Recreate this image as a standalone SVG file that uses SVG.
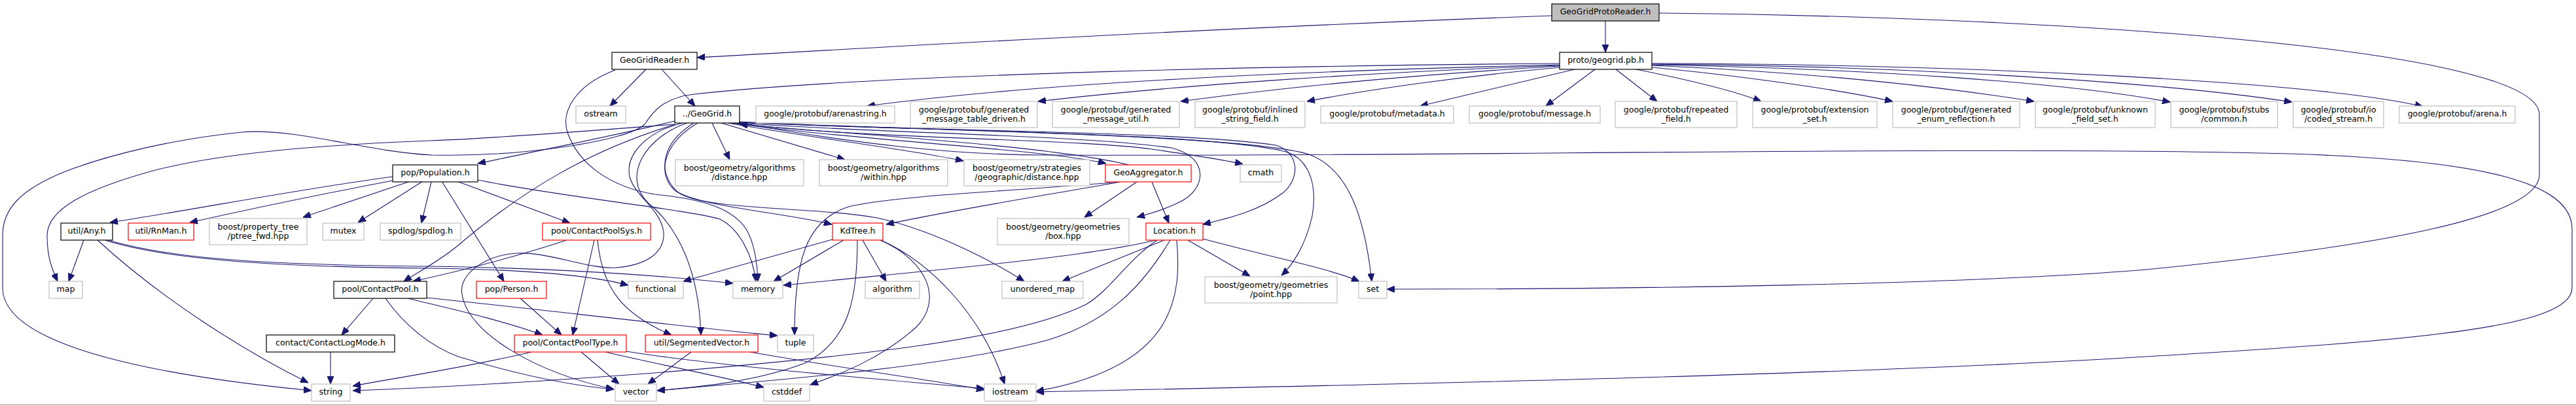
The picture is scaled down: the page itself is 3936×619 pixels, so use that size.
<svg xmlns="http://www.w3.org/2000/svg" width="3936" height="619" viewBox="0 0 3936 619">
<style>
.n rect{fill:#fff;stroke-width:1.2}
.b rect{stroke:#000}
.r rect{stroke:#f00}
.g rect{stroke:#bfbfbf}
.p rect{fill:#bfbfbf;stroke:#000}
text{font-family:"DejaVu Sans","Liberation Sans",sans-serif;font-size:12.5px;text-anchor:middle;fill:#000}
.e path{fill:none;stroke:#191970;stroke-width:1.1;marker-end:url(#ah)}
</style>
<defs>
<marker id="ah" markerUnits="userSpaceOnUse" viewBox="0 0 12 10" markerWidth="12" markerHeight="10" refX="12" refY="5" orient="auto">
<path d="M0,0 L12,5 L0,10 z" fill="#191970" stroke="#191970"/>
</marker>
</defs>
<rect x="0" y="0" width="3936" height="619" fill="#fff"/>
<line x1="0" y1="618.5" x2="3936" y2="618.5" stroke="#a8a8a8" stroke-width="1"/>
<g class="e" id="edges">
<path d="M2371,24 C1800,45 1300,75 1065,88"/>
<path d="M2453,32 L2453,80"/>
<path d="M2535,20 C3100,25 3880,70 3880,175 L3880,267 C3880,330 3650,375 3280,412 C3000,435 2500,442 2119,442"/>
<path d="M987,106 L932,162"/>
<path d="M1011,106 L1062,162"/>
<path d="M940,107 C880,130 855,170 868,205 C885,250 930,285 1000,297 C1080,305 1120,320 1140,350 C1152,370 1157,400 1158,430"/>
<path d="M2383,97 C2000,100 1350,112 1060,144 C1010,150 995,175 985,190 C960,215 800,240 660,237 C560,232 450,195 370,202 C270,212 170,235 100,262 C30,290 4,320 4,360 L4,440 C4,510 150,565 476,597"/>
<path d="M2383,99 C2000,108 1600,125 1325,162"/>
<path d="M2383,100 C2100,110 1800,130 1586,155"/>
<path d="M2383,101 C2150,115 1950,135 1804,155"/>
<path d="M2383,103 C2250,115 2100,135 1997,155"/>
<path d="M2406,106 L2170,162"/>
<path d="M2437,106 L2362,162"/>
<path d="M2469,106 L2532,155"/>
<path d="M2500,106 C2560,118 2640,135 2691,155"/>
<path d="M2524,103 C2650,115 2800,135 2892,155"/>
<path d="M2524,100 C2750,110 2950,130 3108,155"/>
<path d="M2524,99 C2850,105 3150,125 3316,156"/>
<path d="M2524,98 C2900,100 3300,125 3502,156"/>
<path d="M2524,97 C3000,98 3550,125 3702,163"/>
<path d="M1031,185 C950,205 800,235 730,250"/>
<path d="M1031,190 C900,200 750,212 656,215 C480,222 330,235 230,262 C130,290 72,320 72,360 C72,395 80,412 88,430"/>
<path d="M1032,190 C900,230 800,290 700,375 C670,400 640,415 617,430"/>
<path d="M1043,188 C990,200 955,235 962,270 C970,300 1010,320 1014,355 C1016,385 990,405 942,409 C900,412 840,385 790,387 C740,390 700,420 706,450 C715,510 820,570 938,595"/>
<path d="M1066,188 C1020,215 1000,260 1030,290 C1060,315 1200,325 1271,343"/>
<path d="M1060,188 C1012,218 1002,262 1036,294 C1075,322 1250,316 1340,333 C1420,350 1510,395 1565,430"/>
<path d="M1050,188 C985,210 950,270 990,310 C1040,350 1068,420 1071,512"/>
<path d="M1088,188 L1115,244"/>
<path d="M1102,188 L1291,244"/>
<path d="M1112,188 C1250,212 1400,230 1472,246"/>
<path d="M1118,188 C1300,214 1600,228 1690,250"/>
<path d="M1124,188 C1300,212 1650,212 1760,228 C1830,238 1870,244 1899,251"/>
<path d="M1128,188 C1350,204 1650,206 1790,226 C1848,240 1845,290 1800,310 C1780,320 1760,326 1737,332"/>
<path d="M1128,187 C1400,200 1800,200 1950,222 C1988,235 1985,275 1960,295 C1920,325 1870,335 1838,343"/>
<path d="M1129,187 C1400,200 1850,202 1965,232 C2005,245 2012,290 2005,330 C1995,375 1975,405 1958,421"/>
<path d="M1130,186 C1400,200 1900,205 2000,236 C2060,258 2085,330 2096,430"/>
<path d="M1130,188 C1300,218 1450,237 1600,237 C2200,240 3000,222 3500,235 C3800,245 3930,280 3930,350 L3930,440 C3930,500 3700,520 3280,545 C2800,575 2000,590 1583,599"/>
<path d="M1725,252 C1600,222 1300,205 1130,190"/>
<path d="M1712,278 C1600,298 1450,322 1354,343"/>
<path d="M1712,278 C1550,292 1380,298 1300,315 C1230,335 1214,400 1214,512"/>
<path d="M1737,278 L1657,332"/>
<path d="M1760,278 L1786,341"/>
<path d="M1766,367 C1650,395 1400,415 1197,436"/>
<path d="M1779,367 L1623,430"/>
<path d="M1768,367 C1720,400 1700,440 1660,465 C1550,520 1300,545 1000,570 C800,585 650,593 539,597"/>
<path d="M1788,367 C1750,430 1700,490 1600,520 C1450,560 1200,580 1004,597"/>
<path d="M1798,367 C1805,450 1800,560 1583,598"/>
<path d="M1815,367 L1910,422"/>
<path d="M1838,365 C1950,395 2030,410 2077,430"/>
<path d="M1272,366 L1044,430"/>
<path d="M1289,367 L1182,430"/>
<path d="M1318,367 L1354,430"/>
<path d="M1346,367 C1420,400 1500,480 1535,587"/>
<path d="M1310,367 C1310,450 1300,520 1230,555 C1150,585 1060,592 1004,597"/>
<path d="M1345,367 C1420,400 1440,460 1400,500 C1350,545 1290,570 1238,588"/>
<path d="M812,538 C720,560 620,575 539,590"/>
<path d="M888,538 L946,587"/>
<path d="M925,538 C1020,560 1100,575 1167,592"/>
<path d="M957,537 C1100,560 1350,580 1504,594"/>
<path d="M1056,538 L990,587"/>
<path d="M1146,538 C1300,565 1420,580 1504,596"/>
<path d="M795,456 L858,512"/>
<path d="M908,367 L875,512"/>
<path d="M913,367 C920,440 950,480 1026,512"/>
<path d="M866,367 C780,395 700,415 631,430"/>
<path d="M570,456 L522,512"/>
<path d="M589,456 C620,500 660,530 700,545 C800,575 880,590 938,595"/>
<path d="M623,456 C680,470 770,490 829,512"/>
<path d="M652,455 C800,470 1050,500 1188,513"/>
<path d="M505,538 L505,587"/>
<path d="M128,367 L105,430"/>
<path d="M149,367 C250,460 380,540 471,585"/>
<path d="M160,367 C250,395 400,408 660,410 C800,412 900,420 960,436"/>
<path d="M165,367 C260,395 400,405 660,407 C850,410 1000,420 1120,433"/>
<path d="M600,270 C450,290 300,320 168,340"/>
<path d="M600,276 C500,295 380,320 290,340"/>
<path d="M627,277 L463,332"/>
<path d="M646,277 L547,340"/>
<path d="M659,278 L644,341"/>
<path d="M675,277 L770,430"/>
<path d="M698,277 L871,341"/>
<path d="M730,275 C850,300 1050,320 1100,335 C1130,350 1150,390 1155,430"/>
</g>
<g id="n_gpr" class="n p"><rect x="2371" y="6" width="164" height="26"/><text x="2453" y="22">GeoGridProtoReader.h</text></g>
<g id="n_ggr" class="n b"><rect x="935" y="80" width="130" height="26"/><text x="1000" y="96">GeoGridReader.h</text></g>
<g id="n_pb" class="n b"><rect x="2383" y="80" width="141" height="26"/><text x="2453.5" y="96">proto/geogrid.pb.h</text></g>
<g id="n_ostream" class="n g"><rect x="880" y="162" width="76" height="26"/><text x="918" y="178">ostream</text></g>
<g id="n_geogrid" class="n b"><rect x="1031" y="162" width="99" height="26"/><text x="1080.5" y="178">../GeoGrid.h</text></g>
<g id="n_arenastring" class="n g"><rect x="1155" y="162" width="212" height="26"/><text x="1261" y="178">google/protobuf/arenastring.h</text></g>
<g id="n_gmtd" class="n g"><rect x="1391" y="155" width="194" height="40"/><text x="1488" y="172">google/protobuf/generated</text><text x="1488" y="186">_message_table_driven.h</text></g>
<g id="n_gmu" class="n g"><rect x="1608" y="155" width="194" height="40"/><text x="1705" y="172">google/protobuf/generated</text><text x="1705" y="186">_message_util.h</text></g>
<g id="n_isf" class="n g"><rect x="1826" y="155" width="168" height="40"/><text x="1910" y="172">google/protobuf/inlined</text><text x="1910" y="186">_string_field.h</text></g>
<g id="n_meta" class="n g"><rect x="2018" y="162" width="203" height="26"/><text x="2119.5" y="178">google/protobuf/metadata.h</text></g>
<g id="n_msg" class="n g"><rect x="2245" y="162" width="200" height="26"/><text x="2345" y="178">google/protobuf/message.h</text></g>
<g id="n_rep" class="n g"><rect x="2468" y="155" width="186" height="40"/><text x="2561" y="172">google/protobuf/repeated</text><text x="2561" y="186">_field.h</text></g>
<g id="n_ext" class="n g"><rect x="2678" y="155" width="190" height="40"/><text x="2773" y="172">google/protobuf/extension</text><text x="2773" y="186">_set.h</text></g>
<g id="n_ger" class="n g"><rect x="2892" y="155" width="194" height="40"/><text x="2989" y="172">google/protobuf/generated</text><text x="2989" y="186">_enum_reflection.h</text></g>
<g id="n_ufs" class="n g"><rect x="3110" y="155" width="183" height="40"/><text x="3201.5" y="172">google/protobuf/unknown</text><text x="3201.5" y="186">_field_set.h</text></g>
<g id="n_common" class="n g"><rect x="3317" y="155" width="163" height="40"/><text x="3398.5" y="172">google/protobuf/stubs</text><text x="3398.5" y="186">/common.h</text></g>
<g id="n_coded" class="n g"><rect x="3504" y="155" width="138" height="40"/><text x="3573" y="172">google/protobuf/io</text><text x="3573" y="186">/coded_stream.h</text></g>
<g id="n_arena" class="n g"><rect x="3666" y="162" width="177" height="26"/><text x="3754.5" y="178">google/protobuf/arena.h</text></g>
<g id="n_pop" class="n b"><rect x="600" y="252" width="130" height="26"/><text x="665" y="268">pop/Population.h</text></g>
<g id="n_dist" class="n g"><rect x="1032" y="244" width="196" height="40"/><text x="1130" y="261">boost/geometry/algorithms</text><text x="1130" y="275">/distance.hpp</text></g>
<g id="n_within" class="n g"><rect x="1252" y="244" width="196" height="40"/><text x="1350" y="261">boost/geometry/algorithms</text><text x="1350" y="275">/within.hpp</text></g>
<g id="n_geodist" class="n g"><rect x="1473" y="244" width="192" height="40"/><text x="1569" y="261">boost/geometry/strategies</text><text x="1569" y="275">/geographic/distance.hpp</text></g>
<g id="n_agg" class="n r"><rect x="1689" y="252" width="131" height="26"/><text x="1754.5" y="268">GeoAggregator.h</text></g>
<g id="n_cmath" class="n g"><rect x="1895" y="252" width="63" height="26"/><text x="1926.5" y="268">cmath</text></g>
<g id="n_any" class="n b"><rect x="93" y="341" width="79" height="26"/><text x="132.5" y="357">util/Any.h</text></g>
<g id="n_rnman" class="n r"><rect x="196" y="341" width="100" height="26"/><text x="246" y="357">util/RnMan.h</text></g>
<g id="n_ptree" class="n g"><rect x="320" y="334" width="149" height="40"/><text x="394.5" y="351">boost/property_tree</text><text x="394.5" y="365">/ptree_fwd.hpp</text></g>
<g id="n_mutex" class="n g"><rect x="493" y="341" width="63" height="26"/><text x="524.5" y="357">mutex</text></g>
<g id="n_spdlog" class="n g"><rect x="581" y="341" width="123" height="26"/><text x="642.5" y="357">spdlog/spdlog.h</text></g>
<g id="n_cps" class="n r"><rect x="829" y="341" width="165" height="26"/><text x="911.5" y="357">pool/ContactPoolSys.h</text></g>
<g id="n_kdtree" class="n r"><rect x="1272" y="341" width="77" height="26"/><text x="1310.5" y="357">KdTree.h</text></g>
<g id="n_box" class="n g"><rect x="1524" y="334" width="201" height="40"/><text x="1624.5" y="351">boost/geometry/geometries</text><text x="1624.5" y="365">/box.hpp</text></g>
<g id="n_loc" class="n r"><rect x="1751" y="341" width="87" height="26"/><text x="1794.5" y="357">Location.h</text></g>
<g id="n_map" class="n g"><rect x="75" y="430" width="51" height="26"/><text x="100.5" y="446">map</text></g>
<g id="n_cp" class="n b"><rect x="510" y="430" width="142" height="26"/><text x="581" y="446">pool/ContactPool.h</text></g>
<g id="n_person" class="n r"><rect x="728" y="430" width="107" height="26"/><text x="781.5" y="446">pop/Person.h</text></g>
<g id="n_functional" class="n g"><rect x="960" y="430" width="84" height="26"/><text x="1002" y="446">functional</text></g>
<g id="n_memory" class="n g"><rect x="1120" y="430" width="76" height="26"/><text x="1158" y="446">memory</text></g>
<g id="n_algorithm" class="n g"><rect x="1322" y="430" width="83" height="26"/><text x="1363.5" y="446">algorithm</text></g>
<g id="n_umap" class="n g"><rect x="1531" y="430" width="124" height="26"/><text x="1593" y="446">unordered_map</text></g>
<g id="n_point" class="n g"><rect x="1841" y="423" width="202" height="40"/><text x="1942" y="440">boost/geometry/geometries</text><text x="1942" y="454">/point.hpp</text></g>
<g id="n_set" class="n g"><rect x="2076" y="430" width="43" height="26"/><text x="2097.5" y="446">set</text></g>
<g id="n_clm" class="n b"><rect x="407" y="512" width="196" height="26"/><text x="505" y="528">contact/ContactLogMode.h</text></g>
<g id="n_cpt" class="n r"><rect x="786" y="512" width="171" height="26"/><text x="871.5" y="528">pool/ContactPoolType.h</text></g>
<g id="n_sv" class="n r"><rect x="986" y="512" width="172" height="26"/><text x="1072" y="528">util/SegmentedVector.h</text></g>
<g id="n_tuple" class="n g"><rect x="1188" y="512" width="55" height="26"/><text x="1215.5" y="528">tuple</text></g>
<g id="n_string" class="n g"><rect x="476" y="587" width="59" height="26"/><text x="505.5" y="603">string</text></g>
<g id="n_vector" class="n g"><rect x="940" y="587" width="63" height="26"/><text x="971.5" y="603">vector</text></g>
<g id="n_cstddef" class="n g"><rect x="1167" y="587" width="70" height="26"/><text x="1202" y="603">cstddef</text></g>
<g id="n_iostream" class="n g"><rect x="1504" y="587" width="79" height="26"/><text x="1543.5" y="603">iostream</text></g>
</svg>
